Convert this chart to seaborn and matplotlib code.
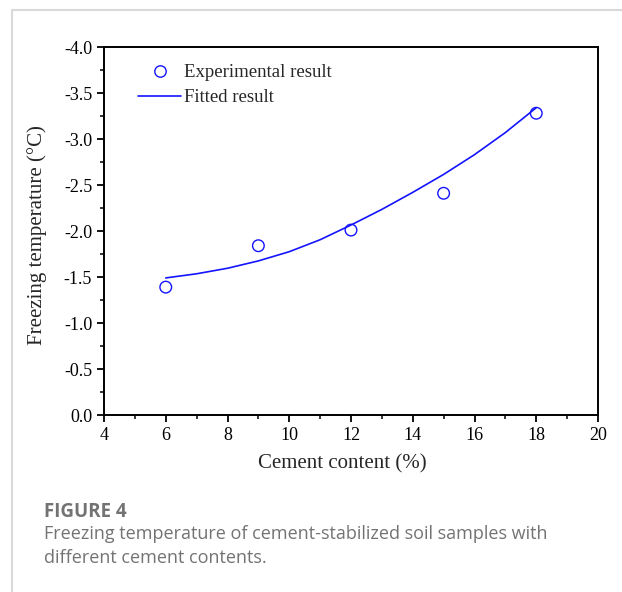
import matplotlib
matplotlib.use("Agg")
import matplotlib.pyplot as plt
from matplotlib.ticker import MultipleLocator, FormatStrFormatter
from matplotlib.lines import Line2D
import seaborn as sns
import pandas as pd

# Experimental data
cement_exp = [6, 9, 12, 15, 18]
temp_exp = [-1.39, -1.84, -2.01, -2.41, -3.28]

# Fitted curve
cement_fit = [6, 7, 8, 9, 10, 11, 12, 13, 14, 15, 16, 17, 18]
temp_fit = [-1.49, -1.535, -1.595, -1.675, -1.775, -1.905, -2.065, -2.235,
            -2.42, -2.615, -2.83, -3.07, -3.34]

sns.set_style("ticks")
plt.rcParams["font.family"] = ["Liberation Serif", "DejaVu Serif"]
plt.rcParams["axes.unicode_minus"] = False

fig = plt.figure(figsize=(6.22, 5.92), dpi=100)
ax = fig.add_axes([104 / 622, 1 - 415 / 592, (598 - 104) / 622, (415 - 47) / 592])

exp_df = pd.DataFrame({"x": cement_exp, "y": temp_exp})
fit_df = pd.DataFrame({"x": cement_fit, "y": temp_fit})

blue = "#1414ff"
sns.lineplot(data=fit_df, x="x", y="y", ax=ax, color=blue, lw=1.2, sort=True)
sns.scatterplot(data=exp_df, x="x", y="y", ax=ax, marker="o", s=70,
                facecolor="none", edgecolor=blue, linewidth=1.0, zorder=3)

ax.set_xlim(4, 20)
ax.set_ylim(0, -4)
ax.xaxis.set_major_locator(MultipleLocator(2))
ax.xaxis.set_minor_locator(MultipleLocator(1))
ax.yaxis.set_major_locator(MultipleLocator(0.5))
ax.yaxis.set_minor_locator(MultipleLocator(0.25))
ax.yaxis.set_major_formatter(FormatStrFormatter("%.1f"))

for sp in ax.spines.values():
    sp.set_visible(True)
    sp.set_color("black")
    sp.set_linewidth(1.4)

ax.tick_params(which="major", direction="out", length=5, width=1.3, labelsize=13,
               colors="black", pad=3.5)
ax.tick_params(which="minor", direction="out", length=3, width=1.3)
ax.tick_params(top=False, right=False, which="both")

ax.set_xlabel("Cement content (%)", fontsize=15)
ax.set_ylabel("Freezing temperature (\u00b0C)", fontsize=15)
ax.xaxis.set_label_coords(342 / 622, 1 - 454 / 592, transform=fig.transFigure)
ax.yaxis.set_label_coords(47 / 622, 1 - 235 / 592, transform=fig.transFigure)

handles = [
    Line2D([], [], marker="o", linestyle="none", markersize=8.2,
           markerfacecolor="none", markeredgecolor=blue, markeredgewidth=1.0),
    Line2D([], [], color=blue, lw=1.2),
]
leg = ax.legend(handles, ["Experimental result", "Fitted result"],
                loc="upper left", bbox_to_anchor=(138 / 622, 1 - 64 / 592),
                bbox_transform=fig.transFigure, frameon=False, fontsize=13.5,
                handlelength=2.3, handletextpad=0.16, labelspacing=0.44,
                borderpad=0, borderaxespad=0)

# Caption
cap_color = "#737373"
fig.text(44 / 622, 1 - 517 / 592, "FIGURE 4", fontsize=13.5, fontweight="bold",
         color=cap_color, family=["Open Sans", "DejaVu Sans"], va="baseline")
fig.text(44 / 622, 1 - 539 / 592,
         "Freezing temperature of cement-stabilized soil samples with",
         fontsize=13, color=cap_color, family=["Open Sans", "DejaVu Sans"], va="baseline")
fig.text(44 / 622, 1 - 563 / 592, "different cement contents.",
         fontsize=13, color=cap_color, family=["Open Sans", "DejaVu Sans"], va="baseline")

# Frame lines
fig.add_artist(Line2D([12 / 622, 1], [1 - 10 / 592, 1 - 10 / 592],
                      transform=fig.transFigure, color="#d9d9d9", lw=1.5))
fig.add_artist(Line2D([12 / 622, 12 / 622], [0, 1 - 10 / 592],
                      transform=fig.transFigure, color="#d9d9d9", lw=1.5))

fig.savefig("out.png", dpi=100)
